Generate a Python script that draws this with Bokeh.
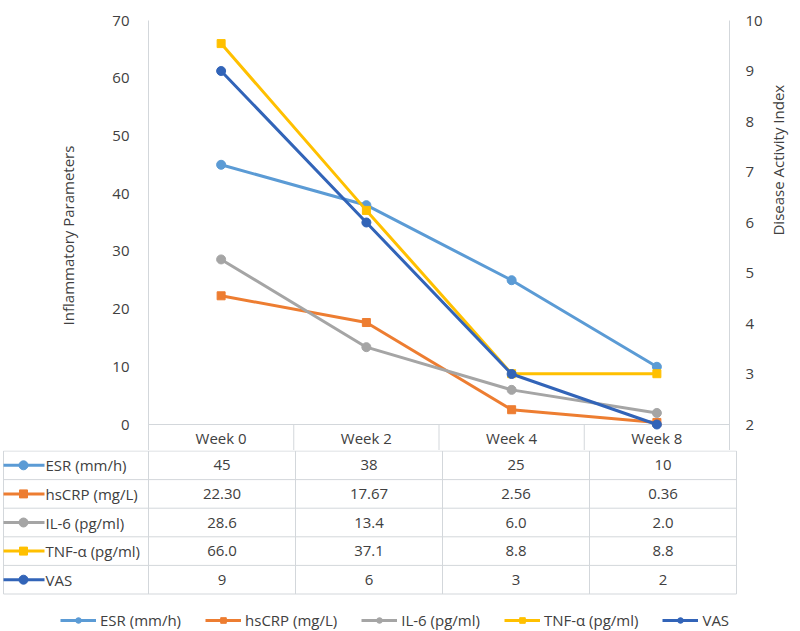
import math
from bokeh.plotting import figure
from bokeh.models import Range1d, LinearAxis, SingleIntervalTicker, Legend, LegendItem
from bokeh.embed import file_html
from bokeh.resources import INLINE

# ---------------- data ----------------
weeks = ["Week 0", "Week 2", "Week 4", "Week 8"]
series_names = ["ESR (mm/h)", "hsCRP (mg/L)", "IL-6 (pg/ml)", "TNF-α (pg/ml)", "VAS"]
esr = [45, 38, 25, 10]
hscrp = [22.30, 17.67, 2.56, 0.36]
il6 = [28.6, 13.4, 6.0, 2.0]
tnf = [66.0, 37.1, 8.8, 8.8]
vas = [9, 6, 3, 2]
decimals = [0, 2, 1, 1, 0]
left_axis_range = [0, 70]
right_axis_range = [2, 10]
left_title = "Inflammatory Parameters"
right_title = "Disease Activity Index"

series_values = [esr, hscrp, il6, tnf, vas]
on_right_axis = [False, False, False, False, True]

# ---------------- style ----------------
FONT = "Open Sans"
FS = "15px"
TXT = "#404040"
GRID = "#d3d7db"
colors = ["#5B9BD5", "#ED7D31", "#A5A5A5", "#FFC000", "#3264B8"]
markers = ["circle", "square", "circle", "square", "circle"]
msize = [9, 8, 9, 8, 9]

W = 800
BL, BR = 148, 64          # chart frame borders
UNIT = (W - BL - BR) / 4  # px per category
TOP = 20
PLOT_H = 404              # px from 70 to 0
HEAD_H = 26               # header row height
CH_H = TOP + PLOT_H + HEAD_H
RH = 28.6                 # table row height
TB_H = 631 - CH_H

lo, hi = left_axis_range
upp = (hi - lo) / PLOT_H
y_start = lo - HEAD_H * upp
rlo, rhi = right_axis_range
rupp = (rhi - rlo) / PLOT_H
ry_start = rlo - HEAD_H * rupp

n = len(weeks)
xs = list(range(n))

# ---------------- chart ----------------
p = figure(width=W, height=CH_H, x_range=Range1d(-0.5, n - 0.5),
           y_range=Range1d(y_start, hi), x_axis_location=None,
           output_backend="svg", toolbar_location=None,
           min_border_left=BL, min_border_right=BR, min_border_top=TOP,
           min_border_bottom=0)
p.extra_y_ranges = {"dai": Range1d(ry_start, rhi)}
p.outline_line_color = None
p.xgrid.visible = False
p.ygrid.visible = False

def style_axis(ax, standoff_label, label_standoff):
    ax.axis_line_color = GRID
    ax.axis_line_width = 1
    ax.major_tick_line_color = None
    ax.minor_tick_line_color = None
    ax.major_tick_out = 0
    ax.major_tick_in = 0
    ax.major_label_standoff = standoff_label
    ax.major_label_text_font = FONT
    ax.major_label_text_font_size = FS
    ax.major_label_text_color = TXT
    ax.axis_label_text_font = FONT
    ax.axis_label_text_font_size = FS
    ax.axis_label_text_font_style = "normal"
    ax.axis_label_text_color = TXT
    ax.axis_label_standoff = label_standoff

yl = p.yaxis[0]
yl.ticker = SingleIntervalTicker(interval=10)
yl.axis_label = left_title
style_axis(yl, 15, 31)

yr = LinearAxis(y_range_name="dai", ticker=SingleIntervalTicker(interval=1),
                axis_label=right_title)
style_axis(yr, 12, 12)
yr.axis_label_orientation = math.pi / 2
yr.axis_label_text_align = "center"
yr.axis_label_text_baseline = "middle"
p.add_layout(yr, "right")

# header row of the table (inside chart frame)
head_mid = lo - (HEAD_H / 2) * upp
p.segment(x0=[-0.5], y0=[lo], x1=[n - 0.5], y1=[lo], line_color=GRID, line_width=1)
p.segment(x0=[i + 0.5 for i in range(n - 1)], y0=[lo] * (n - 1),
          x1=[i + 0.5 for i in range(n - 1)], y1=[y_start] * (n - 1),
          line_color=GRID, line_width=1)
p.text(x=xs, y=[head_mid] * n, text=weeks, text_align="center",
       text_baseline="middle", text_font={"value": FONT},
       text_font_size=FS, text_color=TXT)

for vals, c, m, ms, right in zip(series_values, colors, markers, msize, on_right_axis):
    kw = {"y_range_name": "dai"} if right else {}
    p.line(xs, vals, line_color=c, line_width=3, **kw)
    p.scatter(xs, vals, marker=m, size=ms, fill_color=c, line_color=c, **kw)

# ---------------- table ----------------
BR_T = BR - 1
tx0 = -0.5 - BL / UNIT
tx1 = n - 0.5 + 1 / UNIT
ns = len(series_names)
ty_top = -0.5 / RH
ty_bot = ty_top + TB_H / RH
t = figure(width=W, height=TB_H, x_range=Range1d(tx0, tx1),
           y_range=Range1d(ty_bot, ty_top), x_axis_location=None,
           y_axis_location=None, output_backend="svg", toolbar_location=None,
           min_border_left=0, min_border_right=BR_T, min_border_top=0,
           min_border_bottom=0)
t.outline_line_color = None
t.xgrid.visible = False
t.ygrid.visible = False

left_edge = tx0 + 3 / UNIT
t.segment(x0=[left_edge] * (ns + 1), y0=list(range(ns + 1)),
          x1=[n - 0.5] * (ns + 1), y1=list(range(ns + 1)),
          line_color=GRID, line_width=1)
vx = [left_edge] + [i - 0.5 for i in range(n + 1)]
t.segment(x0=vx, y0=[0] * len(vx), x1=vx, y1=[ns] * len(vx),
          line_color=GRID, line_width=1)

label_x = tx0 + 45 / UNIT
icon_a = tx0 + 3 / UNIT
icon_b = tx0 + 44 / UNIT
icon_m = tx0 + 23 / UNIT

items = []
for r, (name, vals, d, c, m, ms) in enumerate(zip(series_names, series_values,
                                                  decimals, colors, markers, msize)):
    yc = r + 0.5
    lr = t.line([icon_a, icon_b], [yc, yc], line_color=c, line_width=3)
    mr = t.scatter([icon_m], [yc], marker=m, size=ms, fill_color=c, line_color=c)
    items.append(LegendItem(label=name, renderers=[lr, mr]))
    t.text(x=[label_x], y=[yc], text=[name], text_align="left",
           text_baseline="middle", text_font={"value": FONT},
           text_font_size=FS, text_color=TXT)
    t.text(x=xs, y=[yc] * n, text=[f"{v:.{d}f}" for v in vals],
           text_align="center", text_baseline="middle",
           text_font={"value": FONT}, text_font_size=FS, text_color=TXT)

legend = Legend(items=items, orientation="horizontal", location=(60, 1),
                background_fill_alpha=0, border_line_color=None,
                label_text_font=FONT, label_text_font_size=FS,
                label_text_color=TXT, glyph_width=36, glyph_height=14,
                label_standoff=4, spacing=24, padding=0, margin=0)
t.add_layout(legend)

open("out.html", "w").write(file_html([p, t], INLINE))
